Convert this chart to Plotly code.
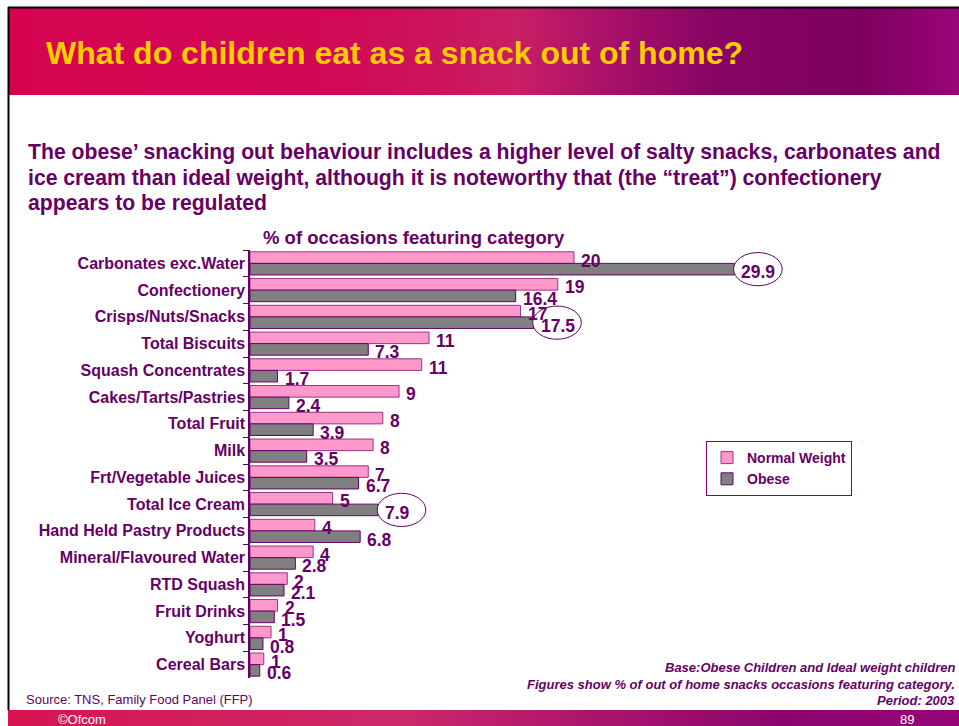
import plotly.graph_objects as go

# ---- data ----
categories = ["Carbonates exc.Water", "Confectionery", "Crisps/Nuts/Snacks", "Total Biscuits",
              "Squash Concentrates", "Cakes/Tarts/Pastries", "Total Fruit", "Milk",
              "Frt/Vegetable Juices", "Total Ice Cream", "Hand Held Pastry Products",
              "Mineral/Flavoured Water", "RTD Squash", "Fruit Drinks", "Yoghurt", "Cereal Bars"]
# bar lengths (the slide prints them rounded, see normal_labels)
normal_weight = [20, 19, 16.7, 11.05, 10.6, 9.2, 8.2, 7.6, 7.3, 5.1, 4.0, 3.9, 2.3, 1.7, 1.3, 0.85]
normal_labels = ["20", "19", "17", "11", "11", "9", "8", "8", "7", "5", "4", "4", "2", "2", "1", "1"]
obese = [29.9, 16.4, 17.5, 7.3, 1.7, 2.4, 3.9, 3.5, 6.7, 7.9, 6.8, 2.8, 2.1, 1.5, 0.8, 0.6]
circled = ["Carbonates exc.Water", "Crisps/Nuts/Snacks", "Total Ice Cream"]

W, H = 959, 726
PURPLE = "#660066"
FONT = "Arial, Liberation Sans, sans-serif"
BARGAP = 0.135
OFF = (1 - BARGAP) / 4  # centre offset of each bar inside its category


def px(x):
    """slide x (pixels) -> paper fraction"""
    return x / W


def py(y):
    """slide y (pixels from top) -> paper fraction"""
    return 1 - y / H


def lerp_color(stops, x):
    for (x0, c0), (x1, c1) in zip(stops, stops[1:]):
        if x0 <= x <= x1:
            t = (x - x0) / (x1 - x0)
            c = [round(a + (b - a) * t) for a, b in zip(c0, c1)]
            return "rgb(%d,%d,%d)" % tuple(c)
    return "rgb(%d,%d,%d)" % stops[-1][1]


HEADER_STOPS = [(0, (214, 4, 80)), (350, (208, 10, 86)), (520, (200, 30, 100)),
                (620, (165, 15, 105)), (720, (135, 4, 100)), (860, (125, 0, 95)), (959, (155, 5, 120))]
FOOTER_STOPS = [(0, (214, 20, 80)), (400, (205, 40, 105)), (600, (170, 20, 110)),
                (780, (140, 5, 110)), (959, (150, 5, 120))]

fig = go.Figure()
fig.add_trace(go.Bar(y=categories, x=normal_weight, orientation="h", name="Normal Weight",
                     marker=dict(color="#FF99CC", line=dict(color="#993388", width=1))))
fig.add_trace(go.Bar(y=categories, x=obese, orientation="h", name="Obese",
                     marker=dict(color="#808080", line=dict(color=PURPLE, width=1))))

shapes = []
# header and footer bands, stepped gradient
step = 8
for x in range(8, W, step):
    shapes.append(dict(type="rect", xref="paper", yref="paper", x0=px(x), x1=px(x + step + 0.5),
                       y0=py(95), y1=py(8), line=dict(width=0),
                       fillcolor=lerp_color(HEADER_STOPS, x + step / 2), layer="below"))
    shapes.append(dict(type="rect", xref="paper", yref="paper", x0=px(x), x1=px(x + step + 0.5),
                       y0=py(726), y1=py(710), line=dict(width=0),
                       fillcolor=lerp_color(FOOTER_STOPS, x + step / 2), layer="below"))
# slide frame (top and left)
shapes.append(dict(type="line", xref="paper", yref="paper", x0=px(8), x1=px(W), y0=py(7.5), y1=py(7.5),
                   line=dict(color="black", width=2)))
shapes.append(dict(type="line", xref="paper", yref="paper", x0=px(8.5), x1=px(8.5), y0=py(7), y1=py(710),
                   line=dict(color="black", width=2)))

# ellipses around the highlighted obese values
for cat in circled:
    i = categories.index(cat)
    v = obese[i]
    shapes.append(dict(type="circle", xref="x", yref="y", x0=v - 0.05, x1=v + 2.95,
                       y0=i + OFF - 0.62, y1=i + OFF + 0.62,
                       fillcolor="white", line=dict(color=PURPLE, width=1), layer="above"))

annotations = []
for i in range(len(categories)):
    annotations.append(dict(x=normal_weight[i], y=i - OFF, xref="x", yref="y", text="<b>%s</b>" % normal_labels[i],
                            showarrow=False, xanchor="left", yanchor="middle", xshift=5, yshift=-3,
                            font=dict(size=17.5, color=PURPLE, family=FONT)))
    annotations.append(dict(x=obese[i], y=i + OFF, xref="x", yref="y", text="<b>%g</b>" % obese[i],
                            showarrow=False, xanchor="left", yanchor="middle", xshift=5, yshift=-3,
                            font=dict(size=17.5, color=PURPLE, family=FONT)))


def note(x, y, text, size, color=PURPLE, xanchor="left"):
    annotations.append(dict(x=px(x), y=py(y), xref="paper", yref="paper", text=text, showarrow=False,
                            xanchor=xanchor, yanchor="middle", font=dict(size=size, color=color, family=FONT)))


note(44, 53, "<b>What do children eat as a snack out of home?</b>", 32, color="#FFCC00")
note(26, 152, "<b>The obese\u2019 snacking out behaviour includes a higher level of salty snacks, carbonates and</b>", 21.2)
note(26, 178, "<b>ice cream than ideal weight, although it is noteworthy that (the \u201ctreat\u201d) confectionery</b>", 21.2)
note(26, 203, "<b>appears to be regulated</b>", 21.2)
note(414, 237, "<b>% of occasions featuring category</b>", 18.5, xanchor="center")
note(957, 667, "<b><i>Base:Obese Children and Ideal weight children</i></b>", 13, xanchor="right")
note(957, 684, "<b><i>Figures show % of out of home snacks occasions featuring category.</i></b>", 13, xanchor="right")
note(957, 700, "<b><i>Period: 2003</i></b>", 13, xanchor="right")
note(24, 699, "Source: TNS, Family Food Panel (FFP)", 13)
note(56, 719, "\u00a9Ofcom", 13, color="white")
note(916, 719, "89", 13, color="white", xanchor="right")

fig.update_layout(
    width=W, height=H, margin=dict(l=0, r=0, t=0, b=0),
    paper_bgcolor="white", plot_bgcolor="white",
    barmode="group", bargap=BARGAP, bargroupgap=0,
    font=dict(family=FONT, color=PURPLE),
    shapes=shapes, annotations=annotations,
    legend=dict(x=px(706), y=py(441), xanchor="left", yanchor="top", bgcolor="white",
                bordercolor="#800080", borderwidth=1, itemwidth=30, tracegroupgap=0,
                font=dict(size=14, color=PURPLE, family=FONT, weight="bold")),
    xaxis=dict(domain=[px(250), px(955)], range=[0, 705 / 16.2], visible=False),
    yaxis=dict(domain=[py(678), py(250)], type="category", autorange=False, range=[15.5, -0.5],
               showline=True, linecolor=PURPLE, linewidth=1.5, ticks="outside", tickson="boundaries",
               ticklen=5, tickcolor=PURPLE, showgrid=False,
               tickfont=dict(size=16, color=PURPLE, family=FONT, weight="bold")),
)

# the slide fills the whole window, so drop the page's default body margin
fig.write_html("out.html", config={"displayModeBar": False},
               post_script="document.body.style.margin='0';document.body.style.overflow='hidden';")
